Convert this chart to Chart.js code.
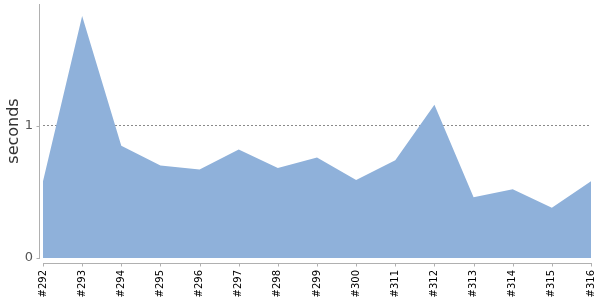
<!DOCTYPE html>
<html>
<head>
<meta charset="utf-8">
<script src="https://cdn.jsdelivr.net/npm/chart.js@4"></script>
<style>
  html, body { margin: 0; padding: 0; background: #fff; }
  #wrap { width: 600px; height: 300px; }
</style>
</head>
<body>
<div id="wrap"><canvas id="myChart" width="600" height="300"></canvas></div>
<script>
// build numbers and times (seconds)
const builds = ['#292', '#293', '#294', '#295', '#296', '#297', '#298', '#299', '#300',
                '#311', '#312', '#313', '#314', '#315', '#316'];
const seconds = [0.58, 1.83, 0.85, 0.70, 0.67, 0.82, 0.68, 0.76, 0.59,
                 0.74, 1.16, 0.46, 0.52, 0.38, 0.58];
const yTicks = [0, 1];
const yMax = Math.max(...seconds) * 1.05;

const axisColor = '#b0b0b0';

// axes drawn a few pixels away from the plot area
const offsetAxes = {
  id: 'offsetAxes',
  afterDraw(chart) {
    const c = chart.ctx;
    const area = chart.chartArea;
    const x = chart.scales.x, y = chart.scales.y;
    c.save();
    c.strokeStyle = axisColor;
    c.lineWidth = 1;
    c.beginPath();
    const ax = Math.round(area.left - 4) + 0.5;
    c.moveTo(ax, area.top);
    c.lineTo(ax, area.bottom + 1);
    yTicks.forEach(v => {
      const py = Math.round(y.getPixelForValue(v)) + 0.5;
      c.moveTo(ax - 3, py);
      c.lineTo(ax, py);
    });
    const ay = Math.round(area.bottom + 5) + 0.5;
    c.moveTo(area.left, ay);
    c.lineTo(area.right + 1, ay);
    builds.forEach((b, i) => {
      const px = Math.round(x.getPixelForValue(i)) + 0.5;
      c.moveTo(px, ay);
      c.lineTo(px, ay + 3);
    });
    c.stroke();
    c.restore();
  }
};

const ctx = document.getElementById('myChart').getContext('2d');
const myChart = new Chart(ctx, {
  type: 'line',
  data: {
    labels: builds,
    datasets: [{
      data: seconds,
      fill: 'origin',
      backgroundColor: 'rgb(143, 177, 218)',
      borderColor: 'rgb(143, 177, 218)',
      borderWidth: 0,
      pointRadius: 0,
      tension: 0
    }]
  },
  options: {
    responsive: false,
    animation: false,
    layout: { padding: { top: 4, right: 9, left: 0, bottom: 0 } },
    plugins: { legend: { display: false }, tooltip: { enabled: false } },
    scales: {
      x: {
        offset: false,
        afterFit(s) {
          s.height = 42;
          s.paddingLeft = 0; s.paddingRight = 0;
        },
        grid: { display: false, drawTicks: false },
        border: { display: false },
        ticks: {
          autoSkip: false,
          minRotation: 90,
          maxRotation: 90,
          padding: 12,
          color: '#000',
          font: { family: 'DejaVu Sans', size: 10 }
        }
      },
      y: {
        min: 0,
        max: yMax,
        afterFit(s) {
          s.width = 43;
          s.paddingTop = 0; s.paddingBottom = 0;
        },
        afterBuildTicks(s) { s.ticks = yTicks.map(v => ({ value: v })); },
        grid: {
          drawTicks: false,
          color: c => c.tick && c.tick.value === 1 ? '#8a8a8a' : 'rgba(0,0,0,0)',
          lineWidth: 1
        },
        border: { display: false, dash: [2, 2] },
        ticks: {
          padding: 10,
          color: '#555',
          font: { family: 'DejaVu Sans', size: 13 }
        },
        title: {
          display: true,
          text: 'seconds',
          color: '#333',
          font: { family: 'DejaVu Sans', size: 16 },
          padding: { top: 4, bottom: 0 }
        }
      }
    }
  },
  plugins: [offsetAxes]
});
</script>
</body>
</html>
